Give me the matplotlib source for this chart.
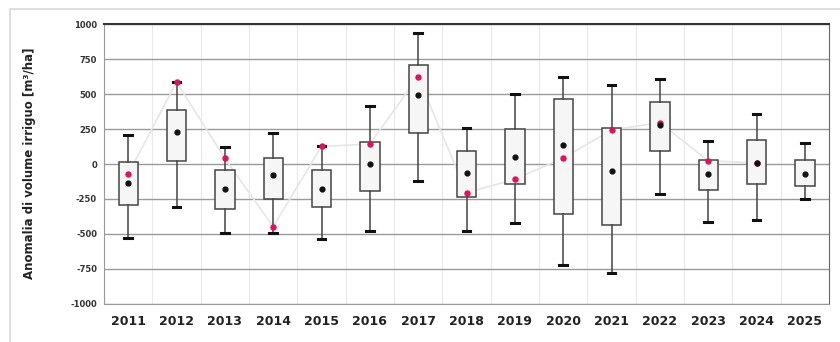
import matplotlib.pyplot as plt
from matplotlib.patches import Rectangle

plt.rcParams['axes.unicode_minus'] = False

years = [str(y) for y in range(2011, 2026)]
whisker_low = [-530, -305, -496, -496, -535, -480, -122, -480, -422, -721, -783, -215, -413, -401, -253]
box_low = [-294, 24, -320, -248, -305, -196, 224, -239, -143, -360, -437, 95, -186, -146, -158]
box_high = [17, 389, -45, 43, -41, 155, 711, 91, 251, 465, 255, 442, 31, 169, 29]
whisker_high = [208, 585, 124, 224, 126, 418, 938, 258, 504, 621, 568, 606, 165, 356, 153]
centre = [-136, 231, -179, -76, -179, 0, 494, -62, 50, 138, -53, 282, -72, 5, -72]
# observed year values (none for the last year)
observed = [-72, 585, 41, -449, 126, 143, 625, -205, -110, 43, 243, 296, 24, 7]

fig = plt.figure(figsize=(8.4, 3.42), dpi=100)
# outer chart frame, only its top and left edges fall inside the image
fig.add_artist(plt.Line2D([10 / 840, 10 / 840, 1], [0, 1 - 9 / 342, 1 - 9 / 342],
                          transform=fig.transFigure, color='#d8d8d8', lw=1.2))
ax = fig.add_axes([104 / 840, 1 - 303.7 / 342, 725 / 840, 279.4 / 342])

pos = list(range(1, len(years) + 1))
stats = []
for i in range(len(years)):
    stats.append(dict(whislo=whisker_low[i], q1=box_low[i], med=centre[i],
                      q3=box_high[i], whishi=whisker_high[i], label=years[i]))

# light line linking observed values, hidden behind the boxes
ax.plot(pos[:len(observed)], observed, color='#e6e6e6', lw=1.2, zorder=2)

ax.bxp(stats, positions=pos, widths=0.4, capwidths=0.16, showfliers=False, patch_artist=True,
       boxprops=dict(facecolor='#f6f6f6', edgecolor='#444444', linewidth=1.1),
       whiskerprops=dict(color='#444444', linewidth=1.1),
       capprops=dict(color='#111111', linewidth=2.2),
       medianprops=dict(linewidth=0), zorder=3)

ax.scatter(pos, centre, s=12, color='#111111', zorder=5)
ax.scatter(pos[:len(observed)], observed, s=13, color='#e0115f', zorder=4)

ax.set_xlim(0.5, len(years) + 0.5)
ax.set_ylim(-1000, 1000)
ax.set_yticks(range(-1000, 1001, 250))
ax.set_xticks(pos)
ax.set_xticklabels(years, fontsize=9, fontweight='bold', color='#222222')
ax.tick_params(axis='x', length=0, pad=8)
ax.tick_params(axis='y', length=0, labelsize=6, labelcolor='#333333', pad=5)
for t in ax.get_yticklabels():
    t.set_fontweight('bold')

for v in range(-1000, 1001, 250):
    ax.axhline(v, color='#9a9a9a', lw=1.0, zorder=1)
for b in range(len(years) + 1):
    ax.axvline(b + 0.5, color='#e8e8e8', lw=0.8, zorder=0)

for s in ['left', 'bottom']:
    ax.spines[s].set_color('#9a9a9a')
ax.spines['right'].set_color('#666666')
ax.spines['top'].set_color('#333333')
ax.spines['top'].set_linewidth(1.5)

fig.text(30 / 840, 1 - 163 / 342, 'Anomalia di volume irriguo [m³/ha]', rotation=90,
         ha='center', va='center', fontsize=8.5, fontweight='bold', color='#222222')

fig.savefig('out.png', dpi=100)
